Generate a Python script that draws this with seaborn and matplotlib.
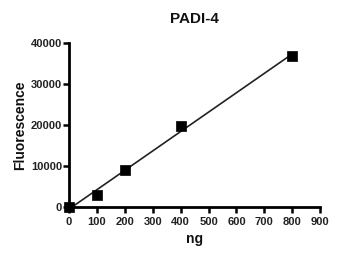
import matplotlib
matplotlib.use("Agg")
import matplotlib.pyplot as plt
import seaborn as sns
import numpy as np
import pandas as pd

ng = [0, 100, 200, 400, 800]
fluorescence = [0, 2800, 9000, 19700, 36800]
x_ticks = [0, 100, 200, 300, 400, 500, 600, 700, 800, 900]
y_ticks = [0, 10000, 20000, 30000, 40000]

df = pd.DataFrame({"ng": ng, "Fluorescence": fluorescence})

sns.set_style("ticks")
plt.rcParams['font.family'] = ['Liberation Sans', 'DejaVu Sans']

fig = plt.figure(figsize=(3.45, 2.63), dpi=100)
ax = fig.add_axes([0.2, 0.213, 0.728, 0.624])

sns.regplot(data=df, x="ng", y="Fluorescence", ax=ax, ci=None,
            marker="s", color="black",
            scatter_kws={"s": 55, "clip_on": False, "zorder": 3, "alpha": 1,
                         "edgecolors": "black", "linewidths": 0.5},
            line_kws={"linewidth": 1.2, "color": "#222222"})

ax.set_xlim(0, 900)
ax.set_ylim(0, 40000)
ax.set_xticks(x_ticks)
ax.set_yticks(y_ticks)
ax.set_xticklabels([str(v) for v in x_ticks], fontsize=8, fontweight="bold", color="#222222")
ax.set_yticklabels([str(v) for v in y_ticks], fontsize=8, fontweight="bold", color="#222222")
ax.tick_params(axis="both", direction="out", length=4, width=1.8, color="black")
ax.tick_params(axis="x", pad=3)
ax.tick_params(axis="y", pad=1)
for s in ["left", "bottom"]:
    ax.spines[s].set_linewidth(2)
    ax.spines[s].set_color("black")
sns.despine(ax=ax)

ax.set_xlabel("ng", fontsize=10, fontweight="bold", labelpad=4, color="#111111")
ax.set_ylabel("Fluorescence", fontsize=10, fontweight="bold", labelpad=3, color="#111111")
ax.set_title("PADI-4", fontsize=11, fontweight="bold", pad=14, color="#111111")

fig.savefig("out.png", dpi=100)
